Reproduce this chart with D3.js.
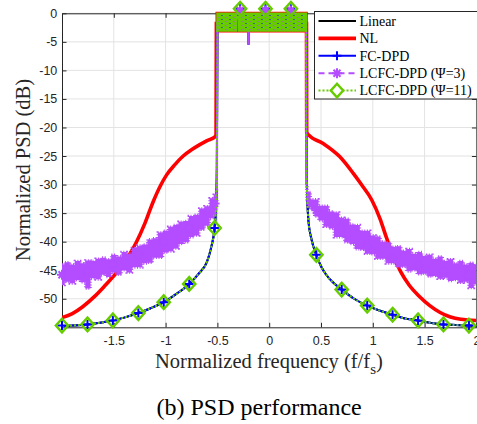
<!DOCTYPE html>
<html><head><meta charset="utf-8">
<script src="https://cdn.jsdelivr.net/npm/d3@7"></script>
<style>body{margin:0;background:#fff}svg{display:block}</style>
</head><body><svg id="c" width="477" height="424"></svg>
<script>
// ---------------- DATA ----------------
const xTicks = [-1.5, -1, -0.5, 0, 0.5, 1, 1.5, 2];
const xTickLabels = ["-1.5", "-1", "-0.5", "0", "0.5", "1", "1.5", "2"];
const yTicks = [-50, -45, -40, -35, -30, -25, -20, -15, -10, -5, 0];
const yTickLabels = ["-50", "-45", "-40", "-35", "-30", "-25", "-20", "-15", "-10", "-5", "0"];
const seriesNames = ["Linear", "NL", "FC-DPD", "LCFC-DPD (\u03A8=3)", "LCFC-DPD (\u03A8=11)"];

// Linear / FC-DPD / LCFC-DPD (Psi=11) share the same out-of-band spectrum
const linLeftX = [-2, -1.9, -1.754, -1.6, -1.509, -1.4, -1.263, -1.15, -1.018, -0.9, -0.772, -0.68, -0.6, -0.56, -0.527, -0.512, -0.505, -0.5];
const linLeftY = [-54.8, -54.7, -54.5, -54.1, -53.8, -53.3, -52.5, -51.7, -50.6, -49.2, -47.4, -45.6, -43.5, -41.0, -37.6, -33.5, -27, -1.5];
const linRightX = [0.357, 0.362, 0.378, 0.41, 0.455, 0.5, 0.55, 0.62, 0.70, 0.82, 0.946, 1.07, 1.191, 1.3, 1.437, 1.55, 1.682, 1.8, 1.928, 2.0];
const linRightY = [-1.5, -29, -36.2, -39.7, -42.3, -44.3, -45.8, -47.2, -48.4, -50.0, -51.2, -52.1, -52.8, -53.4, -53.8, -54.2, -54.5, -54.6, -54.7, -54.8];

// NL
const nlLeftX = [-2, -1.9, -1.8, -1.68, -1.58, -1.5, -1.42, -1.35, -1.285, -1.2, -1.12, -1.05, -0.99, -0.91, -0.83, -0.75, -0.67, -0.6, -0.52, -0.513, -0.51];
const nlLeftY = [-53.3, -52.6, -51.4, -49.5, -47.6, -46.0, -44.2, -42.3, -40.2, -36.8, -33.0, -30.2, -28.3, -26.5, -25.0, -23.9, -23.0, -22.3, -21.6, -21.2, -1.5];
const nlRightX = [0.36, 0.362, 0.38, 0.52, 0.68, 0.81, 0.89, 0.99, 1.07, 1.13, 1.2, 1.27, 1.35, 1.45, 1.55, 1.65, 1.75, 1.85, 2.0];
const nlRightY = [-1.5, -20.8, -21.3, -22.8, -25.1, -28.0, -30.0, -32.7, -36.0, -39.2, -42.6, -45.3, -47.6, -49.6, -51.2, -52.4, -53.2, -53.6, -53.8];

// LCFC-DPD (Psi=3): noisy out-of-band spectrum, upper / lower envelope
const p3LeftX = [-2.0, -1.95, -1.9, -1.85, -1.8, -1.75, -1.7, -1.65, -1.6, -1.55, -1.5, -1.45, -1.4, -1.35, -1.3, -1.25, -1.2, -1.15, -1.1, -1.05, -1.0, -0.95, -0.9, -0.85, -0.8, -0.75, -0.7, -0.65, -0.6, -0.55, -0.52, -0.505];
const p3LeftHi = [-44.0, -43.6, -44.0, -43.4, -43.8, -43.3, -43.4, -43.0, -42.8, -43.1, -42.3, -42.6, -41.8, -42.1, -41.1, -40.7, -40.5, -39.6, -39.4, -38.4, -38.1, -37.4, -37.1, -36.5, -36.4, -35.5, -35.3, -34.2, -33.8, -32.4, -31.8, -31.0];
const p3LeftLo = [-47.6, -47.0, -47.3, -46.7, -47.1, -48.2, -46.4, -46.6, -45.8, -46.2, -45.4, -45.8, -45.0, -45.4, -44.5, -44.5, -43.8, -43.7, -42.8, -42.8, -41.9, -41.7, -41.2, -40.4, -40.1, -39.2, -38.9, -37.9, -37.2, -35.9, -35.3, -34.5];
const p3RightX = [0.36, 0.38, 0.42, 0.45, 0.5, 0.55, 0.6, 0.65, 0.7, 0.75, 0.8, 0.85, 0.9, 0.95, 1.0, 1.05, 1.1, 1.15, 1.2, 1.25, 1.3, 1.35, 1.4, 1.45, 1.5, 1.55, 1.6, 1.65, 1.7, 1.75, 1.8, 1.85, 1.9, 1.95, 2.0];
const p3RightHi = [-30.0, -31.3, -32.6, -32.6, -33.7, -33.7, -34.7, -34.9, -35.8, -36.0, -37.0, -37.1, -38.1, -38.1, -38.9, -39.1, -40.0, -40.1, -40.9, -40.8, -41.6, -41.3, -42.1, -41.8, -42.5, -42.3, -43.0, -42.6, -43.4, -43.1, -43.8, -43.4, -44.0, -43.7, -44.1];
const p3RightLo = [-33.0, -34.0, -34.4, -35.6, -36.3, -37.4, -37.7, -39.2, -39.2, -40.1, -40.4, -41.3, -41.4, -42.1, -42.2, -43.0, -43.0, -43.8, -43.8, -44.5, -44.4, -45.2, -45.0, -45.7, -45.6, -46.1, -46.0, -46.5, -46.3, -46.9, -46.7, -47.2, -47.0, -48.1, -47.4];

// in-band spectrum (all schemes), top / bottom envelope
const bandX = [-0.503, -0.318, -0.317, -0.298, -0.297, -0.212, -0.211, -0.188, -0.187, 0.357];
const bandTop = [0, 0, 0, 0, 0, 0, 0, 0, 0, 0];
const bandBottom = [-3.1, -3.1, -0.9, -0.9, -3.1, -3.1, -5.5, -5.5, -3.1, -3.1];
const bandBottomG = [-3.1, -3.1, -0.9, -0.9, -3.1, -3.1, -3.1, -3.1, -3.1, -3.1];

// marker samples
const markX = [-2, -1.754, -1.509, -1.263, -1.018, -0.772, -0.527, -0.281, -0.036, 0.209, 0.455, 0.700, 0.946, 1.191, 1.437, 1.682, 1.928];
const markY = [-54.7, -54.5, -53.8, -52.5, -50.6, -47.4, -37.6, 0.8, 0.8, 0.8, -42.3, -48.4, -51.2, -52.8, -53.8, -54.5, -54.7];
const markY3 = [-45.8, -45.2, -43.9, -42.3, -40.0, -37.7, -33.3, 0.5, 0.5, 0.5, -34.5, -37.6, -40.7, -42.8, -44.2, -45.2, -45.9];

// ---------------- DRAW ----------------
const svg = d3.select("#c");
const m = {l: 62, r: 476.4, t: 13.3, b: 327.3};
const x = d3.scaleLinear().domain([-2, 2]).range([m.l, m.r]);
const y = d3.scaleLinear().domain([-55, 0]).range([m.b, m.t]);
const zip = (a, b) => a.map((v, i) => [v, b[i]]);
const zip3 = (a, b, c) => a.map((v, i) => [v, b[i], c[i]]);

const C = {lin: "#000000", nl: "#ff0000", fc: "#0000ff", p3: "#b34dff", p11: "#66cc00", axis: "#262626", grid: "#e3e3e3"};

const defs = svg.append("defs");
defs.append("clipPath").attr("id", "clip").append("rect")
  .attr("x", m.l).attr("y", m.t - 3).attr("width", m.r - m.l).attr("height", m.b - m.t + 3);
const pat = defs.append("pattern").attr("id", "gp").attr("patternUnits", "userSpaceOnUse")
  .attr("width", 8).attr("height", 4);
pat.append("rect").attr("width", 8).attr("height", 4).attr("fill", C.p11);
pat.append("rect").attr("x", 1).attr("y", 1).attr("width", 3).attr("height", 1).attr("fill", C.p3).attr("opacity", 0.55);
pat.append("rect").attr("x", 5).attr("y", 3).attr("width", 2).attr("height", 1).attr("fill", C.fc).attr("opacity", 0.45);

svg.append("rect").attr("width", 477).attr("height", 424).attr("fill", "#fff");

// grid
const grid = svg.append("g");
grid.selectAll(".gx").data(xTicks).join("line")
  .attr("x1", d => x(d)).attr("x2", d => x(d)).attr("y1", m.t).attr("y2", m.b)
  .attr("stroke", C.grid).attr("stroke-width", 1);
grid.selectAll(".gy").data(yTicks).join("line")
  .attr("x1", m.l).attr("x2", m.r).attr("y1", d => y(d)).attr("y2", d => y(d))
  .attr("stroke", C.grid).attr("stroke-width", 1);

// axes
const tickFont = "'Liberation Sans', Arial, Helvetica, sans-serif";
function styleAxis(g) {
  g.selectAll("path.domain").attr("stroke", C.axis).attr("stroke-width", 1);
  g.selectAll(".tick line").attr("stroke", C.axis).attr("stroke-width", 1);
  g.selectAll(".tick text").attr("fill", C.axis).attr("font-family", tickFont).attr("font-size", "12.5px");
}
svg.append("g").attr("transform", `translate(0,${m.b})`)
  .call(d3.axisBottom(x).tickValues(xTicks).tickFormat((d, i) => xTickLabels[i]).tickSize(-4.5).tickSizeOuter(0).tickPadding(8.8))
  .call(styleAxis);
svg.append("g").attr("transform", `translate(0,${m.t})`)
  .call(d3.axisTop(x).tickValues(xTicks).tickFormat("").tickSize(-4.5).tickSizeOuter(0))
  .call(styleAxis);
svg.append("g").attr("transform", `translate(${m.l},0)`)
  .call(d3.axisLeft(y).tickValues(yTicks).tickFormat((d, i) => yTickLabels[i]).tickSize(-4.5).tickSizeOuter(0).tickPadding(4.7))
  .call(styleAxis);
svg.append("g").attr("transform", `translate(${m.r},0)`)
  .call(d3.axisRight(y).tickValues(yTicks).tickFormat("").tickSize(-4.5).tickSizeOuter(0))
  .call(styleAxis);

// data
const plot = svg.append("g").attr("clip-path", "url(#clip)");
const line = d3.line().x(d => x(d[0])).y(d => y(d[1])).curve(d3.curveMonotoneX);
const band = d3.area().x(d => x(d[0])).y1(d => y(d[1])).y0(d => y(d[2]));
const stepBand = d3.area().x(d => x(d[0])).y1(d => y(d[1])).y0(d => y(d[2])).curve(d3.curveStep);

function drawLines(col, w, dash) {
  [[linLeftX, linLeftY], [linRightX, linRightY]].forEach(([a, b]) => {
    plot.append("path").attr("d", line(zip(a, b))).attr("fill", "none")
      .attr("stroke", col).attr("stroke-width", w).attr("stroke-dasharray", dash || null);
  });
}
// Linear
drawLines(C.lin, 2);
plot.append("path").attr("d", band(zip3(bandX, bandTop, bandBottomG))).attr("fill", C.lin);
// NL
[[nlLeftX, nlLeftY], [nlRightX, nlRightY]].forEach(([a, b]) => {
  plot.append("path").attr("d", line(zip(a, b))).attr("fill", "none").attr("stroke", C.nl).attr("stroke-width", 3.6);
});
plot.append("path").attr("d", band(zip3(bandX, bandTop, bandBottomG))).attr("fill", C.nl)
  .attr("stroke", C.nl).attr("stroke-width", 3.2);
// FC-DPD
drawLines(C.fc, 2);
plot.append("path").attr("d", band(zip3(bandX, bandTop, bandBottom))).attr("fill", C.fc);
// LCFC-DPD (Psi=3)
[[p3LeftX, p3LeftHi, p3LeftLo], [p3RightX, p3RightHi, p3RightLo]].forEach(([a, b, c]) => {
  const dd = stepBand(zip3(a, b, c));
  plot.append("path").attr("d", dd).attr("fill", C.p3);
  plot.append("path").attr("d", dd).attr("fill", "none").attr("stroke", C.p3)
    .attr("stroke-width", 2.6).attr("stroke-dasharray", "1,1.6");
});
plot.append("path").attr("d", d3.line()([[x(p3LeftX[p3LeftX.length - 1]), y(p3LeftHi[p3LeftHi.length - 1])], [x(-0.5), y(-1.5)]]))
  .attr("stroke", C.p3).attr("stroke-width", 2.2).attr("fill", "none");
plot.append("path").attr("d", d3.line()([[x(0.357), y(-1.5)], [x(p3RightX[0]), y(p3RightHi[0])]]))
  .attr("stroke", C.p3).attr("stroke-width", 2.2).attr("fill", "none");
plot.append("path").attr("d", band(zip3(bandX, bandTop, bandBottom))).attr("fill", C.p3);
// LCFC-DPD (Psi=11)
drawLines(C.p11, 2, "2,2");
plot.append("path").attr("d", band(zip3(bandX, bandTop, bandBottomG))).attr("fill", "url(#gp)")
  .attr("stroke", C.p11).attr("stroke-width", 1.6);

// markers (not clipped)
const plusPath = s => `M${-s},0H${s}M0,${-s}V${s}`;
const starPath = s => `M${-s},0H${s}M0,${-s}V${s}M${-s * 0.7},${-s * 0.7}L${s * 0.7},${s * 0.7}M${-s * 0.7},${s * 0.7}L${s * 0.7},${-s * 0.7}`;
const diamPath = s => `M0,${-s * 1.1}L${s},0L0,${s * 1.1}L${-s},0Z`;
const mk = svg.append("g");
mk.selectAll(".mfc").data(zip(markX, markY)).join("path")
  .attr("transform", d => `translate(${x(d[0])},${y(d[1])})`).attr("d", plusPath(4.5))
  .attr("stroke", C.fc).attr("stroke-width", 2).attr("fill", "none");
mk.selectAll(".mp3").data(zip(markX, markY3)).join("path")
  .attr("transform", d => `translate(${x(d[0])},${y(d[1])})`).attr("d", starPath(5))
  .attr("stroke", C.p3).attr("stroke-width", 2).attr("fill", "none");
mk.selectAll(".mp11").data(zip(markX, markY)).join("path")
  .attr("transform", d => `translate(${x(d[0])},${y(d[1])})`).attr("d", diamPath(6.2))
  .attr("stroke", C.p11).attr("stroke-width", 2.4).attr("fill", "none");

// legend
const serif = "'Liberation Serif', 'Times New Roman', Times, serif";
const lg = svg.append("g");
lg.append("rect").attr("x", 314.5).attr("y", 11.5).attr("width", 170).attr("height", 87.5)
  .attr("fill", "#fff").attr("stroke", C.axis).attr("stroke-width", 1);
const legStyles = [
  {c: C.lin, w: 2, dash: null, m: null},
  {c: C.nl, w: 3.6, dash: null, m: null},
  {c: C.fc, w: 2, dash: null, m: plusPath(4.5)},
  {c: C.p3, w: 2, dash: "6,4", m: starPath(5)},
  {c: C.p11, w: 2, dash: "2,2", m: diamPath(6.2)}
];
seriesNames.forEach((name, i) => {
  const st = legStyles[i];
  const yy = 21 + i * 17.4;
  lg.append("line").attr("x1", 318.5).attr("x2", 356).attr("y1", yy).attr("y2", yy)
    .attr("stroke", st.c).attr("stroke-width", st.w).attr("stroke-dasharray", st.dash);
  if (st.m) {
    lg.append("path").attr("transform", `translate(337,${yy})`).attr("d", st.m)
      .attr("stroke", st.c).attr("stroke-width", i === 4 ? 2.4 : 2).attr("fill", i === 4 ? "#fff" : "none");
  }
  lg.append("text").attr("x", 359.5).attr("y", yy + 4.8).text(name)
    .attr("font-family", serif).attr("font-size", "14px").attr("fill", "#000");
});

// axis labels
svg.append("text").attr("transform", "translate(29.5,170) rotate(-90)").attr("text-anchor", "middle")
  .attr("font-family", serif).attr("font-size", "20.5px").attr("fill", C.axis).text("Normalized PSD (dB)");
const xl = svg.append("text").attr("x", 155).attr("y", 368).attr("font-family", serif)
  .attr("font-size", "20.5px").attr("fill", C.axis);
xl.append("tspan").text("Normalized frequency (f/f");
xl.append("tspan").attr("dy", 6).attr("font-size", "15px").text("s");
xl.append("tspan").attr("dy", -6).text(")");

// caption
svg.append("text").attr("x", 156.5).attr("y", 415).attr("font-family", serif)
  .attr("font-size", "24px").attr("fill", "#000").text("(b) PSD performance");
</script>
</body></html>
